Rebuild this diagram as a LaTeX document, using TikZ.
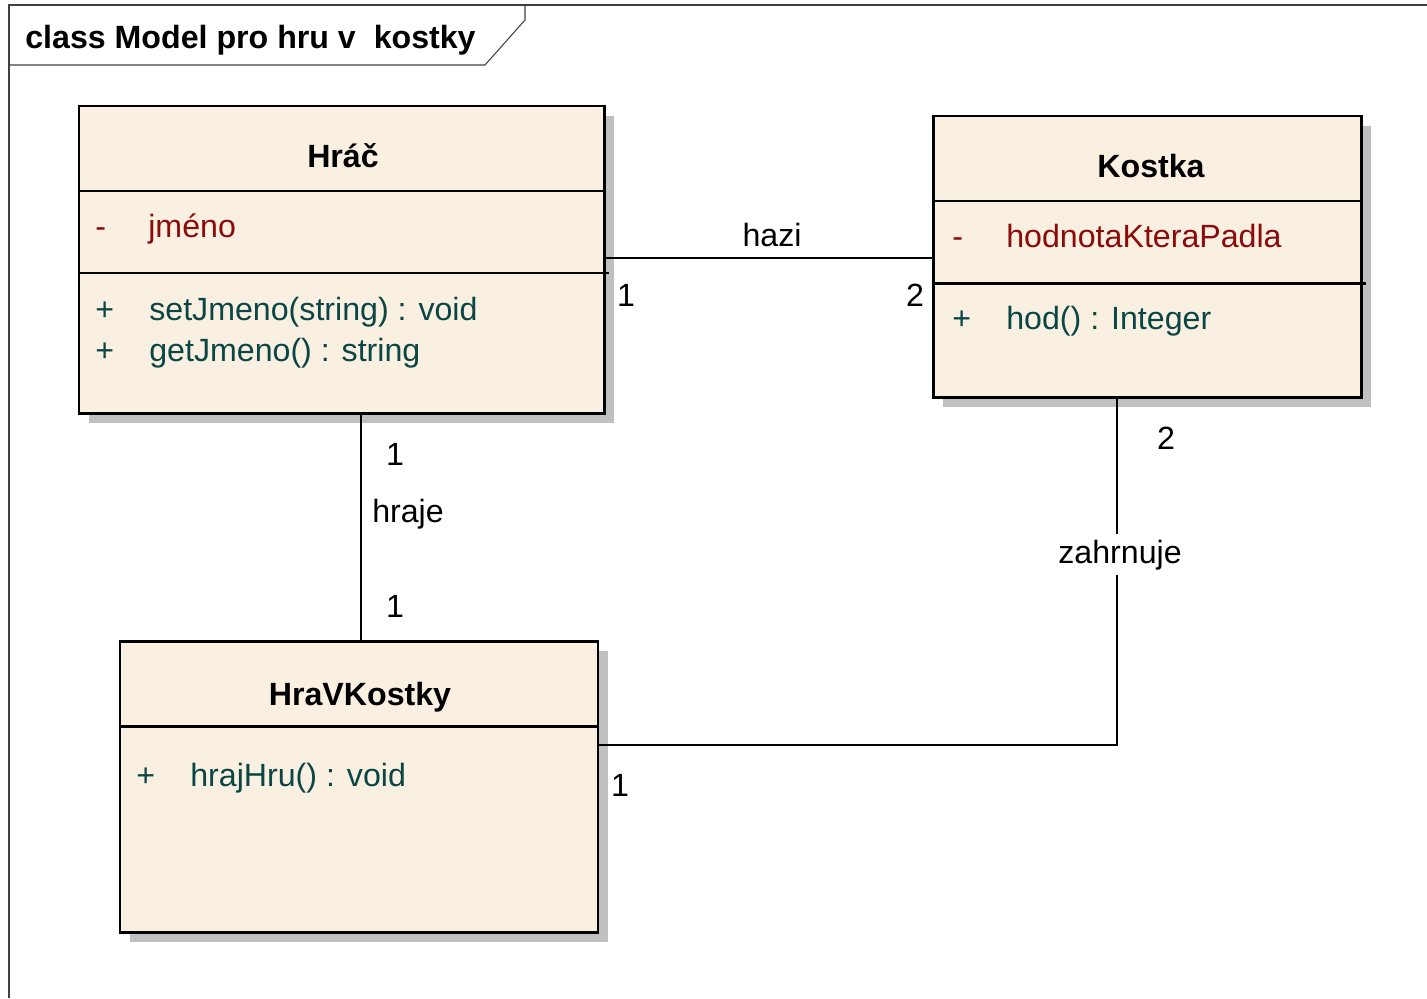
\documentclass[tikz,border=0pt]{standalone}
\usepackage{fontspec}
\setmainfont{Liberation Sans}
\definecolor{classfill}{HTML}{FAF0E1}
\definecolor{attrred}{HTML}{8B0A0A}
\definecolor{opteal}{HTML}{0A4646}
\definecolor{shadowgray}{HTML}{C0C0C0}
\tikzset{
	classbox/.style={draw=black, fill=classfill, line width=1.7pt},
	shadowbox/.style={fill=shadowgray},
	sepline/.style={line width=1.7pt},
	assoc/.style={line width=1.4pt},
	frameline/.style={draw=black!75, line width=0.6pt},
	lbl/.style={inner sep=0pt, anchor=base},
	lblw/.style={inner sep=0pt, anchor=base west},
	attr/.style={lblw, text=attrred},
	oper/.style={lblw, text=opteal}
}
\begin{document}
\begin{tikzpicture}[x=0.02cm, y=-0.02cm, font=\fontsize{18.3}{22}\selectfont, line join=miter]
	\useasboundingbox (0,0) rectangle (1427,998);
	%%%%%%%%%%%%%%%%%%%%%%%%%%%%%%%%%
	\coordinate (F0) at (9,998);
	\coordinate (F1) at (9,5);
	\coordinate (F2) at (1427,5);
	\coordinate (T1) at (9,65);
	\coordinate (T2) at (485,65);
	\coordinate (T3) at (525,20);
	\coordinate (T4) at (525,5);
	%%%%%%%%%%%%%%%%%%%%%%%%%%%%%%%%%
	\coordinate (hracNW) at (79,106);
	\coordinate (hracSE) at (604,413);
	\coordinate (kostkaNW) at (933,116);
	\coordinate (kostkaSE) at (1361,397);
	\coordinate (hraNW) at (120,641);
	\coordinate (hraSE) at (598,932);
	%%%%%%%%%%%%%%%%%%%%%%%%%%%%%%%%%
	\coordinate (haziA) at (604,258);
	\coordinate (haziB) at (933,258);
	\coordinate (hrajeA) at (361,413);
	\coordinate (hrajeB) at (361,641);
	\coordinate (zahrA) at (598,745);
	\coordinate (zahrK) at (1117,745);
	\coordinate (zahrB) at (1117,397);
	%%%%%%%%%%%%%%%%%%%%%%%%%%%%%%%%%
	\draw[frameline] (F0) -- (F1) -- (F2);
	\draw[frameline] (T1) -- (T2) -- (T3) -- (T4);
	\node[lblw, font=\fontsize{18.3}{22}\selectfont\bfseries] (title) at (25,48) {class Model pro hru v\ \ kostky};
	%%%%%%%%%%%%%%%%%%%%%%%%%%%%%%%%%
	\begin{scope}[shadowbox]
		\fill ([shift={(10,10)}]hracNW) rectangle ([shift={(10,10)}]hracSE);
		\fill ([shift={(10,10)}]kostkaNW) rectangle ([shift={(10,10)}]kostkaSE);
		\fill ([shift={(10,10)}]hraNW) rectangle ([shift={(10,10)}]hraSE);
	\end{scope}
	\draw[classbox] (hracNW) rectangle (hracSE);
	\draw[classbox] (kostkaNW) rectangle (kostkaSE);
	\draw[classbox] (hraNW) rectangle (hraSE);
	\draw[sepline] (79,191) -- (604,191);
	\draw[sepline] (79,273) -- (609,273);
	\draw[sepline] (933,201) -- (1361,201);
	\draw[sepline] (933,283) -- (1366,283);
	\draw[sepline] (120,726) -- (598,726);
	%%%%%%%%%%%%%%%%%%%%%%%%%%%%%%%%%
	\draw[assoc] (haziA) -- (haziB);
	\draw[assoc] (hrajeA) -- (hrajeB);
	\draw[assoc] (zahrA) -- (zahrK) -- (zahrB);
	%%%%%%%%%%%%%%%%%%%%%%%%%%%%%%%%%
	\node[lbl, font=\fontsize{18.3}{22}\selectfont\bfseries] (hracName) at (343,167) {Hráč};
	\node[attr] (hracVis1) at (95,237) {-};
	\node[attr] (hracAttr1) at (148,237) {jméno};
	\node[oper] (hracVis2) at (95,320) {+};
	\node[oper] (hracOp1) at (149,320) {setJmeno(string) : void};
	\node[oper] (hracVis3) at (95,361) {+};
	\node[oper] (hracOp2) at (149,361) {getJmeno() : string};
	%%%%%%%%%%%%%%%%%%%%%%%%%%%%%%%%%
	\node[lbl, font=\fontsize{18.3}{22}\selectfont\bfseries] (kostkaName) at (1151,177) {Kostka};
	\node[attr] (kostkaVis1) at (952,247) {-};
	\node[attr] (kostkaAttr1) at (1006,247) {hodnotaKteraPadla};
	\node[oper] (kostkaVis2) at (952,329) {+};
	\node[oper] (kostkaOp1) at (1006,329) {hod() : Integer};
	%%%%%%%%%%%%%%%%%%%%%%%%%%%%%%%%%
	\node[lbl, font=\fontsize{18.3}{22}\selectfont\bfseries] (hraName) at (360,705) {HraVKostky};
	\node[oper] (hraVis1) at (136,786) {+};
	\node[oper] (hraOp1) at (190,786) {hrajHru() : void};
	%%%%%%%%%%%%%%%%%%%%%%%%%%%%%%%%%
	\node[lbl] (haziLbl) at (772,246) {hazi};
	\node[lbl] (haziM1) at (626,306) {1};
	\node[lbl] (haziM2) at (915,306) {2};
	\node[lbl] (hrajeM1) at (395,465) {1};
	\node[lbl] (hrajeLbl) at (408,522) {hraje};
	\node[lbl] (hrajeM2) at (395,617) {1};
	\node[lbl] (zahrM2) at (1166,449) {2};
	\node[lbl, fill=white, inner ysep=3pt] (zahrLbl) at (1120,563) {zahrnuje};
	\node[lbl] (zahrM1) at (620,796) {1};
\end{tikzpicture}
\end{document}
